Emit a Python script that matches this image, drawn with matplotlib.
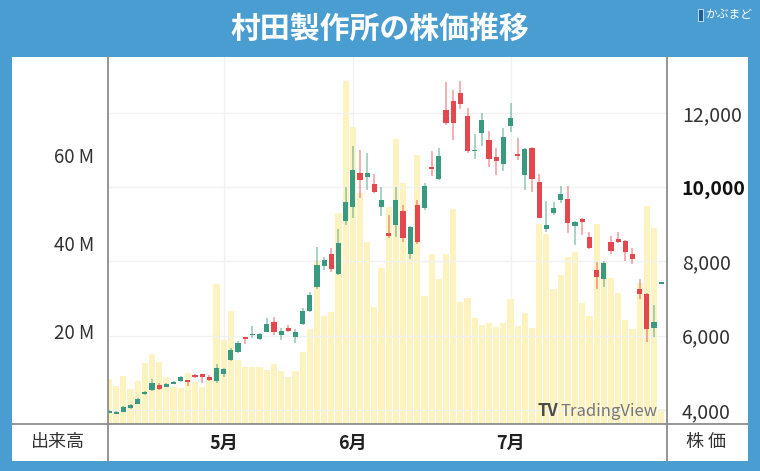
import numpy as np
import matplotlib
matplotlib.use("Agg")
import matplotlib.pyplot as plt
from matplotlib.lines import Line2D
from matplotlib.patches import Rectangle

plt.rcParams['font.family'] = ['Noto Sans CJK JP', 'DejaVu Sans']

# daily candles (yen) and volume (shares)
opens = [3930, 3892, 3954, 4046, 4162, 4431, 4538, 4673, 4627, 4700,
         4789, 4808, 4923, 4961, 4896, 4789, 4961, 5346, 5548, 5957,
         6011, 5911, 6108, 6382, 6011, 6194, 5965, 6302, 6665, 7303,
         7885, 8191, 7653, 9088, 9451, 10372, 10272, 10078, 9473, 8757,
         8980, 9344, 8194, 9527, 9424, 10528, 10210, 12068, 12310, 12534,
         11920, 10964, 11449, 11268, 10803, 10614, 11653, 10892, 10313, 11061,
         10146, 8880, 9295, 9645, 9688, 8961, 9142, 8665, 7769, 7527,
         8514, 8595, 8549, 8191, 7257, 7123, 6199, 7392]
highs = [4010, 3970, 4110, 4160, 4310, 4500, 4826, 4727, 4735, 4780,
         4915, 4820, 4961, 4965, 4942, 5238, 5123, 5661, 5857, 5973,
         6261, 6081, 6469, 6495, 6216, 6288, 6167, 6746, 7185, 8380,
         8127, 8353, 8859, 10011, 11099, 11007, 10910, 10345, 9990, 9249,
         10011, 9519, 8960, 9640, 10111, 10964, 11053, 12838, 12614, 12862,
         12122, 11416, 11987, 11511, 11061, 11600, 12256, 11314, 11050, 11080,
         10345, 9626, 9586, 10038, 10030, 9088, 9160, 8792, 7976, 8011,
         8692, 8784, 8576, 8369, 7518, 7141, 6827, 7392]
lows = [3910, 3880, 3940, 4030, 4150, 4404, 4520, 4538, 4610, 4690,
        4760, 4640, 4853, 4735, 4789, 4719, 4888, 5327, 5526, 5777,
        5930, 5884, 6092, 6019, 5884, 6108, 5796, 6275, 6638, 7257,
        7769, 7723, 7621, 8980, 9161, 9699, 9922, 9834, 9222, 8622,
        8665, 8531, 8057, 8469, 9384, 10299, 10192, 11672, 11268, 12098,
        10918, 10757, 11115, 10550, 10326, 10434, 11492, 10730, 9922, 9877,
        9160, 8792, 9249, 9564, 8765, 8442, 8711, 8334, 7257, 7303,
        8199, 8488, 8011, 7922, 6988, 5839, 5973, 7392]
closes = [3975, 3954, 4089, 4135, 4288, 4485, 4740, 4557, 4700, 4762,
          4875, 4762, 4896, 4875, 4808, 5123, 5096, 5602, 5812, 5911,
          6046, 6038, 6302, 6100, 6127, 6135, 6113, 6678, 7096, 7890,
          8038, 7782, 8504, 9591, 10447, 10192, 10388, 9877, 9653, 8684,
          9653, 8622, 8926, 8514, 10022, 10488, 10830, 11718, 11726, 12232,
          10972, 10999, 11807, 10749, 10703, 11357, 11853, 10846, 11026, 10213,
          9177, 8988, 9430, 9820, 9026, 9069, 9069, 8369, 7588, 7965,
          8280, 8514, 8262, 8057, 7115, 6181, 6377, 7392]
volumes_m = [9.0, 7.6, 9.8, 6.8, 8.6, 12.8, 14.8, 13.0, 9.6, 7.2,
             7.1, 10.4, 8.3, 7.3, 8.9, 30.7, 18.0, 24.6, 13.5, 11.9,
             11.8, 11.8, 11.1, 12.5, 10.8, 9.6, 10.9, 15.3, 20.5, 36.1,
             23.3, 24.3, 46.8, 76.8, 66.4, 51.3, 40.3, 25.4, 34.4, 48.1,
             63.6, 53.6, 38.4, 60.0, 28.0, 37.4, 31.8, 37.5, 47.8, 26.5,
             27.4, 23.0, 21.4, 21.8, 21.0, 21.8, 27.3, 21.2, 24.0, 20.6,
             44.3, 42.0, 29.5, 32.7, 36.9, 37.9, 26.4, 23.5, 44.3, 35.8,
             32.0, 28.6, 22.5, 20.4, 30.8, 48.3, 43.5, 2.2]

month_idx = [16, 34, 56]
month_labels = ['5月', '6月', '7月']
vol_ticks_m = [20, 40, 60]
price_ticks = [4000, 6000, 8000, 10000, 12000]

BLUE = '#4a9dd0'
UP = '#3a9a7f'
DOWN = '#e4474d'
VOL = '#fdf3c0'
LINE = '#8c8c8c'

W, H = 760, 471
fig = plt.figure(figsize=(W / 100, H / 100), dpi=100, facecolor=BLUE)

def fx(px):
    return px / W

def fy(py):
    return 1 - py / H

# white card
fig.patches.append(Rectangle((fx(12), fy(460.7)), fx(748) - fx(12), fy(57) - fy(460.7),
                             transform=fig.transFigure, facecolor='white', edgecolor='none', zorder=-10))

fig.text(0.5, fy(29), '村田製作所の株価推移', color='white', fontsize=21.5,
         fontweight='bold', ha='center', va='center')

# logo
fig.patches.append(Rectangle((fx(698), fy(21)), fx(5), fy(9) - fy(21),
                             transform=fig.transFigure, facecolor='#1f5f9e', edgecolor='#d8ecf8', lw=0.6))
fig.text(fx(705), fy(15), 'かぶまど', color='white', fontsize=8.5, ha='left', va='center')

left, right, top, bottom = 108, 666.5, 57, 424
ax_v = fig.add_axes([fx(left), fy(bottom), fx(right) - fx(left), fy(top) - fy(bottom)])
ax_v.set_facecolor('none')
x = np.arange(len(opens))

# volume scale: 0 sits 5 px above the bottom line, 20M per 88 px
vol_lo = -5 / 88 * 20e6
vol_hi = (419 - 57) / 88 * 20e6
ax_v.set_ylim(vol_lo, vol_hi)
ax_v.set_xlim(-0.14, 77.75)
vol = np.array(volumes_m) * 1e6
ax_v.bar(x, vol - vol_lo, bottom=vol_lo, width=0.86, color=VOL, zorder=1)

for m in month_idx:
    ax_v.axvline(m, color='#f1f1f1', lw=1, zorder=0)

ax_v.set_yticks([v * 1e6 for v in vol_ticks_m])
ax_v.set_yticklabels([f'{v} M' for v in vol_ticks_m], fontsize=13.5, color='#333333')
ax_v.tick_params(axis='y', length=0, pad=10)
ax_v.set_xticks(month_idx)
ax_v.set_xticklabels(month_labels, fontsize=13, fontweight='bold', color='#222222')
ax_v.tick_params(axis='x', length=0, pad=7)
for s in ax_v.spines.values():
    s.set_visible(False)

ax_p = ax_v.twinx()
ax_p.set_ylim(4000 - 14 / 74.3 * 2000, 4000 + 353 / 74.3 * 2000)
for p in price_ticks:
    ax_p.axhline(p, color='#f1f1f1', lw=1, zorder=0)

o = np.array(opens)
c = np.array(closes)
hi = np.array(highs)
lo = np.array(lows)
up = c >= o
colors = np.where(up, UP, DOWN)
ax_p.vlines(x, lo, hi, colors=colors, lw=1.1, alpha=0.55, zorder=2)
body_lo = np.minimum(o, c)
body_h = np.maximum(np.abs(c - o), 45)
ax_p.bar(x, body_h, bottom=body_lo, width=0.72, color=colors, zorder=3)

ax_p.set_yticks(price_ticks)
ax_p.set_yticklabels([f'{p:,}' for p in price_ticks], fontsize=14, color='#333333')
for lab in ax_p.get_yticklabels():
    if lab.get_text() == '10,000':
        lab.set_fontweight('bold')
        lab.set_color('#111111')
ax_p.tick_params(axis='y', length=0, pad=11)
for s in ax_p.spines.values():
    s.set_visible(False)

# watermark
ax_p.text(0.769, 0.035, 'TV', transform=ax_p.transAxes, fontsize=12, fontweight='bold',
          color='#4a4a4a', ha='left', va='center', zorder=5)
ax_p.text(0.81, 0.035, 'TradingView', transform=ax_p.transAxes, fontsize=12,
          color='#777777', ha='left', va='center', zorder=5)

# frame lines
fig.add_artist(Line2D([fx(left), fx(left)], [fy(57), fy(460.7)], color=LINE, lw=1.3))
fig.add_artist(Line2D([fx(right), fx(right)], [fy(57), fy(460.7)], color=LINE, lw=1.3))
fig.add_artist(Line2D([fx(12), fx(748)], [fy(bottom), fy(bottom)], color=LINE, lw=1.3))

fig.text(fx(58), fy(442), '出来高', fontsize=13, color='#333333', ha='center', va='center')
fig.text(fx(706), fy(442), '株 価', fontsize=13, color='#333333', ha='center', va='center')

fig.savefig('out.png', dpi=100, facecolor=BLUE)
